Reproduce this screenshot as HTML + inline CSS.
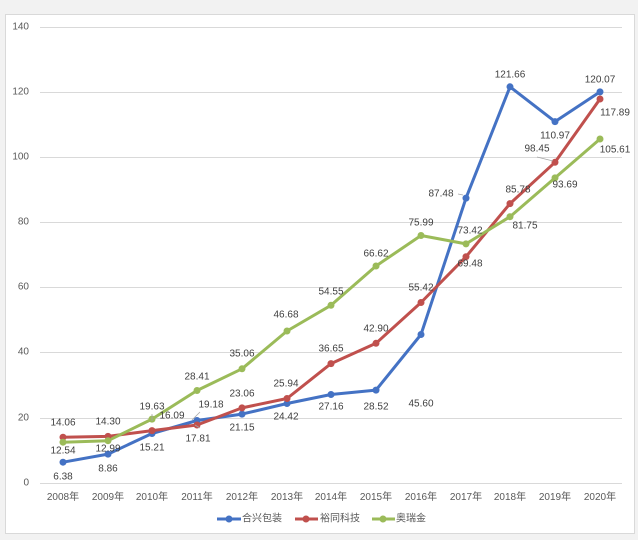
<!DOCTYPE html>
<html><head><meta charset="utf-8"><style>
html,body{margin:0;padding:0;background:#f2f2f2;}
svg{display:block;font-family:"Liberation Sans","Noto Sans CJK SC",sans-serif;}
</style></head><body>
<svg width="638" height="540" xmlns="http://www.w3.org/2000/svg">
<rect x="0" y="0" width="638" height="540" fill="#f2f2f2"/>
<rect x="5.5" y="14.5" width="629" height="519" fill="#fff" stroke="#d9d9d9"/>
<g stroke="#d9d9d9" stroke-width="1">
<line x1="40" x2="622" y1="27.5" y2="27.5"/>
<line x1="40" x2="622" y1="92.5" y2="92.5"/>
<line x1="40" x2="622" y1="157.5" y2="157.5"/>
<line x1="40" x2="622" y1="222.5" y2="222.5"/>
<line x1="40" x2="622" y1="287.5" y2="287.5"/>
<line x1="40" x2="622" y1="352.5" y2="352.5"/>
<line x1="40" x2="622" y1="418.5" y2="418.5"/>
<line x1="40" x2="622" y1="483.5" y2="483.5"/>
</g>
<g font-size="10" fill="#595959" text-anchor="end" dominant-baseline="middle">
<text x="29" y="27">140</text><text x="29" y="92">120</text><text x="29" y="157">100</text>
<text x="29" y="222">80</text><text x="29" y="287">60</text><text x="29" y="352">40</text>
<text x="29" y="418">20</text><text x="29" y="483">0</text>
</g>
<g font-size="10" fill="#595959" text-anchor="middle">
<text x="63" y="500">2008年</text><text x="108" y="500">2009年</text><text x="152" y="500">2010年</text>
<text x="197" y="500">2011年</text><text x="242" y="500">2012年</text><text x="287" y="500">2013年</text>
<text x="331" y="500">2014年</text><text x="376" y="500">2015年</text><text x="421" y="500">2016年</text>
<text x="466" y="500">2017年</text><text x="510" y="500">2018年</text><text x="555" y="500">2019年</text>
<text x="600" y="500">2020年</text>
</g>
<g fill="none" stroke-width="3" stroke-linejoin="round">
<polyline stroke="#4472c4" points="63,462.2 108,454.1 152,433.5 197,420.5 242,414.1 287,403.5 331,394.5 376,390.1 421,334.5 466,198.1 510,86.8 555,121.6 600,91.9"/>
<polyline stroke="#c0504d" points="63,437.2 108,436.4 152,430.6 197,425.0 242,407.9 287,398.5 331,363.6 376,343.3 421,302.5 466,256.7 510,203.6 555,162.3 600,99.0"/>
<polyline stroke="#9bbb59" points="63,442.2 108,440.7 152,419.1 197,390.5 242,368.8 287,331.0 331,305.3 376,266.0 421,235.5 466,243.9 510,216.7 555,177.9 600,139.0"/>
</g>
<g fill="#4472c4">
<circle cx="63" cy="462.2" r="3.5"/><circle cx="108" cy="454.1" r="3.5"/><circle cx="152" cy="433.5" r="3.5"/><circle cx="197" cy="420.5" r="3.5"/><circle cx="242" cy="414.1" r="3.5"/><circle cx="287" cy="403.5" r="3.5"/><circle cx="331" cy="394.5" r="3.5"/><circle cx="376" cy="390.1" r="3.5"/><circle cx="421" cy="334.5" r="3.5"/><circle cx="466" cy="198.1" r="3.5"/><circle cx="510" cy="86.8" r="3.5"/><circle cx="555" cy="121.6" r="3.5"/><circle cx="600" cy="91.9" r="3.5"/>
</g>
<g fill="#c0504d">
<circle cx="63" cy="437.2" r="3.5"/><circle cx="108" cy="436.4" r="3.5"/><circle cx="152" cy="430.6" r="3.5"/><circle cx="197" cy="425.0" r="3.5"/><circle cx="242" cy="407.9" r="3.5"/><circle cx="287" cy="398.5" r="3.5"/><circle cx="331" cy="363.6" r="3.5"/><circle cx="376" cy="343.3" r="3.5"/><circle cx="421" cy="302.5" r="3.5"/><circle cx="466" cy="256.7" r="3.5"/><circle cx="510" cy="203.6" r="3.5"/><circle cx="555" cy="162.3" r="3.5"/><circle cx="600" cy="99.0" r="3.5"/>
</g>
<g fill="#9bbb59">
<circle cx="63" cy="442.2" r="3.5"/><circle cx="108" cy="440.7" r="3.5"/><circle cx="152" cy="419.1" r="3.5"/><circle cx="197" cy="390.5" r="3.5"/><circle cx="242" cy="368.8" r="3.5"/><circle cx="287" cy="331.0" r="3.5"/><circle cx="331" cy="305.3" r="3.5"/><circle cx="376" cy="266.0" r="3.5"/><circle cx="421" cy="235.5" r="3.5"/><circle cx="466" cy="243.9" r="3.5"/><circle cx="510" cy="216.7" r="3.5"/><circle cx="555" cy="177.9" r="3.5"/><circle cx="600" cy="139.0" r="3.5"/>
</g>
<g stroke="#a6a6a6" stroke-width="0.8">
<line x1="192" y1="420" x2="200" y2="412"/>
<line x1="200" y1="428" x2="195" y2="425"/>
<line x1="152" y1="421" x2="152" y2="414"/>
<line x1="458" y1="194" x2="463" y2="195"/>
<line x1="537" y1="157" x2="553" y2="161"/>
</g>
<g font-size="10" fill="#404040" text-anchor="middle" dominant-baseline="middle">
<text x="63" y="477">6.38</text><text x="108" y="469">8.86</text><text x="152" y="448">15.21</text><text x="211" y="405">19.18</text><text x="242" y="428">21.15</text><text x="286" y="417">24.42</text><text x="331" y="407">27.16</text><text x="376" y="407">28.52</text><text x="421" y="404">45.60</text><text x="441" y="194">87.48</text><text x="510" y="75">121.66</text><text x="555" y="136">110.97</text><text x="600" y="80">120.07</text>
<text x="63" y="423">14.06</text><text x="108" y="422">14.30</text><text x="172" y="416">16.09</text><text x="198" y="439">17.81</text><text x="242" y="394">23.06</text><text x="286" y="384">25.94</text><text x="331" y="349">36.65</text><text x="376" y="329">42.90</text><text x="421" y="288">55.42</text><text x="470" y="264">69.48</text><text x="518" y="190">85.78</text><text x="537" y="149">98.45</text><text x="615" y="113">117.89</text>
<text x="63" y="451">12.54</text><text x="108" y="449">12.99</text><text x="152" y="407">19.63</text><text x="197" y="377">28.41</text><text x="242" y="354">35.06</text><text x="286" y="315">46.68</text><text x="331" y="292">54.55</text><text x="376" y="254">66.62</text><text x="421" y="223">75.99</text><text x="470" y="231">73.42</text><text x="525" y="226">81.75</text><text x="565" y="185">93.69</text><text x="615" y="150">105.61</text>
</g>
<g stroke-width="3">
<line x1="217" y1="519" x2="241" y2="519" stroke="#4472c4"/><circle cx="229" cy="519" r="3.5" fill="#4472c4"/>
<line x1="295" y1="519" x2="318" y2="519" stroke="#c0504d"/><circle cx="306" cy="519" r="3.5" fill="#c0504d"/>
<line x1="372" y1="519" x2="395" y2="519" stroke="#9bbb59"/><circle cx="383" cy="519" r="3.5" fill="#9bbb59"/>
</g>
<g font-size="10" fill="#595959" dominant-baseline="middle">
<text x="242" y="519">合兴包装</text><text x="320" y="519">裕同科技</text><text x="396" y="519">奥瑞金</text>
</g>
</svg>
</body></html>
